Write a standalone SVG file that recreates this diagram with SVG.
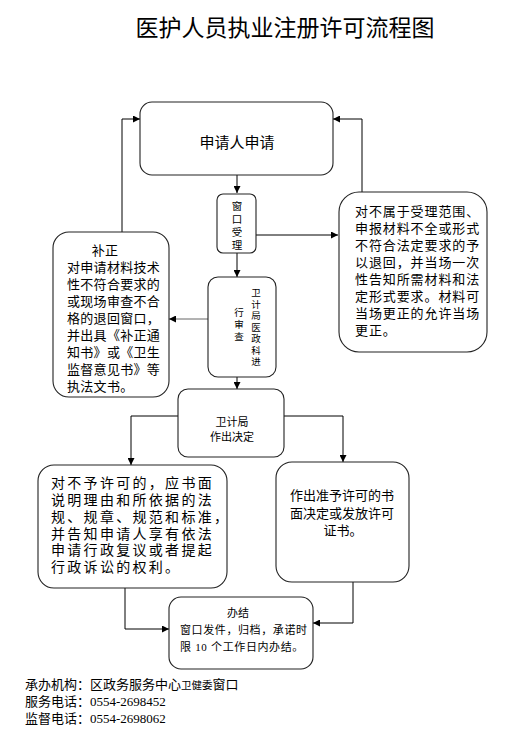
<svg xmlns="http://www.w3.org/2000/svg" width="527" height="754" viewBox="0 0 527 754">
<defs>
<marker id="ah" viewBox="0 0 10 10" refX="10" refY="5" markerWidth="7" markerHeight="7" markerUnits="userSpaceOnUse" orient="auto">
<path d="M0,0 L10,5 L0,10 z" fill="#000"/>
</marker>
</defs>
<style>
.box{fill:#fff;stroke:#222;stroke-width:1.1}
.t{font-family:"Liberation Sans","Noto Sans CJK SC",sans-serif;fill:#000}
.v{font-family:"Noto Sans CJK SC",sans-serif;fill:#000;writing-mode:vertical-rl}
.c{stroke:#000;stroke-width:1;fill:none;marker-end:url(#ah)}
.g{stroke:#666}
.num{font-family:"Liberation Serif",serif}
</style>
<rect width="527" height="754" fill="#fff"/>
<text class="t" x="285" y="36" font-size="23" text-anchor="middle">医护人员执业注册许可流程图</text>

<g id="connectors">
<path class="c" d="M237,175 V193"/>
<path class="c" d="M256,235 H338"/>
<path class="c" d="M362,192 V119 H333"/>
<path class="c" d="M122,232 V119 H140"/>
<path class="c" d="M237,253 V277"/>
<path class="c g" d="M208,319 H169"/>
<path class="c" d="M237,377 V389"/>
<path class="c" d="M178,416 H131 V465"/>
<path class="c" d="M284,416 H343 V462"/>
<path class="c" d="M353,582 V623 H313"/>
<path class="c" d="M125,588 V629 H169"/>
</g>

<g id="apply">
<rect class="box" x="140" y="102" width="193" height="73" rx="12"/>
<text class="t" x="237" y="148" font-size="15" text-anchor="middle">申请人申请</text>
</g>

<g id="window">
<rect class="box" x="217" y="194" width="39" height="59" rx="6"/>
<text class="v" x="237" y="201" font-size="10.5" letter-spacing="2.5">窗口受理</text>
</g>

<g id="reject">
<rect class="box" x="339" y="192" width="148" height="160" rx="20"/>
<text class="t" font-size="13" letter-spacing="0.9"><tspan x="355" y="216">对不属于受理范围、</tspan><tspan x="355" y="233">申报材料不全或形式</tspan><tspan x="355" y="250">不符合法定要求的予</tspan><tspan x="355" y="267">以退回，并当场一次</tspan><tspan x="355" y="284">性告知所需材料和法</tspan><tspan x="355" y="300.5">定形式要求。材料可</tspan><tspan x="355" y="317.5">当场更正的允许当场</tspan><tspan x="355" y="334.5">更正。</tspan></text>
</g>

<g id="correction">
<rect class="box" x="53" y="232" width="116" height="165" rx="16"/>
<text class="t" font-size="13" letter-spacing="0.3"><tspan x="105" y="255" text-anchor="middle">补正</tspan><tspan x="67" y="272">对申请材料技术</tspan><tspan x="67" y="289">性不符合要求的</tspan><tspan x="67" y="306">或现场审查不合</tspan><tspan x="67" y="323">格的退回窗口，</tspan><tspan x="67" y="340">并出具《补正通</tspan><tspan x="67" y="357">知书》或《卫生</tspan><tspan x="67" y="374">监督意见书》等</tspan><tspan x="67" y="391">执法文书。</tspan></text>
</g>

<g id="review">
<rect class="box" x="208" y="277" width="68" height="100" rx="10"/>
<text class="v" x="256" y="288" font-size="9.5" letter-spacing="2">卫计局医政科进</text>
<text class="v" x="239" y="308" font-size="9.5" letter-spacing="2.5">行审查</text>
</g>

<g id="decision">
<rect class="box" x="178" y="389" width="106" height="68" rx="10"/>
<text class="t" font-size="11" text-anchor="middle"><tspan x="232" y="426">卫计局</tspan><tspan x="232" y="441">作出决定</tspan></text>
</g>

<g id="deny">
<rect class="box" x="38" y="465" width="189" height="123" rx="16"/>
<text class="t" font-size="14" letter-spacing="2.3"><tspan x="51" y="488">对不予许可的，应书面</tspan><tspan x="51" y="505">说明理由和所依据的法</tspan><tspan x="51" y="522">规、规章、规范和标准，</tspan><tspan x="51" y="538.5">并告知申请人享有依法</tspan><tspan x="51" y="555">申请行政复议或者提起</tspan><tspan x="51" y="571.5">行政诉讼的权利。</tspan></text>
</g>

<g id="grant">
<rect class="box" x="276" y="462" width="133" height="120" rx="16"/>
<text class="t" font-size="13" text-anchor="middle"><tspan x="342" y="500">作出准予许可的书</tspan><tspan x="342" y="518">面决定或发放许可</tspan><tspan x="343" y="535">证书。</tspan></text>
</g>

<g id="done">
<rect class="box" x="169" y="597" width="144" height="72" rx="12"/>
<text class="t" font-size="11"><tspan x="238" y="617" text-anchor="middle">办结</tspan><tspan x="180" y="634" letter-spacing="0.6">窗口发件，归档，承诺时</tspan><tspan x="180" y="651" letter-spacing="0.6">限 <tspan class="num">10</tspan> 个工作日内办结。</tspan></text>
</g>

<g id="footer">
<text class="t" font-size="13"><tspan x="25" y="689">承办机构：区政务服务中心<tspan font-size="10.5">卫健委</tspan>窗口</tspan><tspan x="25" y="706">服务电话：<tspan class="num">0554-2698452</tspan></tspan><tspan x="25" y="723">监督电话：<tspan class="num">0554-2698062</tspan></tspan></text>
</g>
</svg>
